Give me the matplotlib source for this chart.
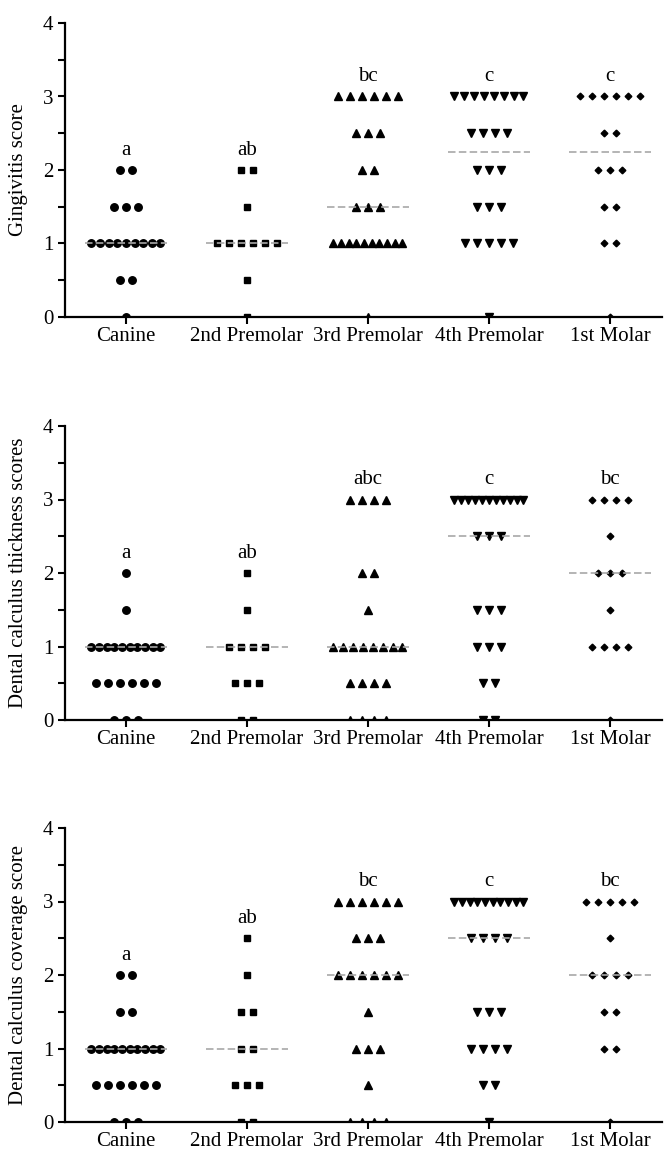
import numpy as np
from matplotlib import pyplot as plt

plt.rcParams['font.family'] = ['Liberation Serif', 'DejaVu Serif']

# Nomes dos dentes (eixo x)
teeth = ['Canine', '2nd Premolar', '3rd Premolar', '4th Premolar', '1st Molar']
markers = ['o', 's', '^', 'v', 'D']
marker_sizes = [5.4, 5.0, 5.6, 5.6, 3.4]

# Escores de gengivite
gingivitis_canine = [0, 0.5, 0.5, 1, 1, 1, 1, 1, 1, 1, 1, 1, 1.5, 1.5, 1.5, 2, 2]
gingivitis_pm2 = [0, 0.5, 1, 1, 1, 1, 1, 1, 1.5, 2, 2]
gingivitis_pm3 = [0, 1, 1, 1, 1, 1, 1, 1, 1, 1, 1, 1.5, 1.5, 1.5, 2, 2,
                  2.5, 2.5, 2.5, 3, 3, 3, 3, 3, 3]
gingivitis_pm4 = [0, 1, 1, 1, 1, 1, 1.5, 1.5, 1.5, 2, 2, 2, 2.5, 2.5, 2.5, 2.5,
                  3, 3, 3, 3, 3, 3, 3, 3]
gingivitis_m1 = [0, 1, 1, 1.5, 1.5, 2, 2, 2, 2.5, 2.5, 3, 3, 3, 3, 3, 3]
gingivitis_letters = ['a', 'ab', 'bc', 'c', 'c']

# Espessura do cálculo dentário
thickness_canine = [0, 0, 0, 0.5, 0.5, 0.5, 0.5, 0.5, 0.5,
                    1, 1, 1, 1, 1, 1, 1, 1, 1, 1, 1.5, 2]
thickness_pm2 = [0, 0, 0.5, 0.5, 0.5, 1, 1, 1, 1, 1.5, 2]
thickness_pm3 = [0, 0, 0, 0, 0.5, 0.5, 0.5, 0.5, 1, 1, 1, 1, 1, 1, 1, 1,
                 1.5, 2, 2, 3, 3, 3, 3]
thickness_pm4 = [0, 0, 0.5, 0.5, 1, 1, 1, 1.5, 1.5, 1.5, 2.5, 2.5, 2.5,
                 3, 3, 3, 3, 3, 3, 3, 3, 3, 3, 3]
thickness_m1 = [0, 1, 1, 1, 1, 1.5, 2, 2, 2, 2.5, 3, 3, 3, 3]
thickness_letters = ['a', 'ab', 'abc', 'c', 'bc']

# Cobertura do cálculo dentário
coverage_canine = [0, 0, 0, 0.5, 0.5, 0.5, 0.5, 0.5, 0.5,
                   1, 1, 1, 1, 1, 1, 1, 1, 1, 1, 1.5, 1.5, 2, 2]
coverage_pm2 = [0, 0, 0.5, 0.5, 0.5, 1, 1, 1.5, 1.5, 2, 2.5]
coverage_pm3 = [0, 0, 0, 0, 0.5, 1, 1, 1, 1.5, 2, 2, 2, 2, 2, 2,
                2.5, 2.5, 2.5, 3, 3, 3, 3, 3, 3]
coverage_pm4 = [0, 0.5, 0.5, 1, 1, 1, 1, 1.5, 1.5, 1.5, 2.5, 2.5, 2.5, 2.5,
                3, 3, 3, 3, 3, 3, 3, 3, 3, 3]
coverage_m1 = [0, 1, 1, 1.5, 1.5, 2, 2, 2, 2, 2.5, 3, 3, 3, 3, 3]
coverage_letters = ['a', 'ab', 'bc', 'c', 'bc']

panels = [
    ('Gingivitis score',
     [gingivitis_canine, gingivitis_pm2, gingivitis_pm3, gingivitis_pm4, gingivitis_m1],
     gingivitis_letters),
    ('Dental calculus thickness scores',
     [thickness_canine, thickness_pm2, thickness_pm3, thickness_pm4, thickness_m1],
     thickness_letters),
    ('Dental calculus coverage score',
     [coverage_canine, coverage_pm2, coverage_pm3, coverage_pm4, coverage_m1],
     coverage_letters),
]

fig = plt.figure(figsize=(6.64, 11.57), dpi=100)
bottoms = [1 - 317 / 1157, 1 - 720 / 1157, 1 - 1122 / 1157]


def spread(xc, values):
    # espalha pontos iguais lado a lado (estilo "scatter dot plot")
    xs, ys = [], []
    for v in sorted(set(values)):
        n = values.count(v)
        step = 0.099 if n < 2 else min(0.099, 0.57 / (n - 1))
        offs = (np.arange(n) - (n - 1) / 2) * step
        xs.extend(xc + offs)
        ys.extend([v] * n)
    return xs, ys


for (ylabel, groups, letters), b in zip(panels, bottoms):
    ax = fig.add_axes([65 / 664, b, 597 / 664, 294 / 1157])
    for i, vals in enumerate(groups):
        xs, ys = spread(i, vals)
        ax.plot(xs, ys, linestyle='none', marker=markers[i], ms=marker_sizes[i],
                color='black', mec='black', zorder=2)
        med = np.median(vals)
        ax.plot([i - 0.34, i + 0.34], [med, med], color='#a8a8a8', lw=1.2,
                linestyle=(0, (4.5, 2)), zorder=3)
        ax.text(i, max(vals) + 0.27, letters[i], ha='center', va='center', fontsize=15)

    ax.set_xlim(-0.504, 4.43)
    ax.set_ylim(0, 4)
    ax.set_xticks(range(len(teeth)))
    ax.set_xticklabels(teeth)
    ax.set_yticks([0, 1, 2, 3, 4])
    ax.set_yticks(np.arange(0.5, 4, 1), minor=True)
    ax.tick_params(axis='both', which='major', labelsize=15, width=1.5, length=5)
    ax.tick_params(axis='y', which='minor', width=1.5, length=5)
    ax.tick_params(axis='x', pad=2)
    ax.spines['top'].set_visible(False)
    ax.spines['right'].set_visible(False)
    ax.spines['left'].set_linewidth(1.6)
    ax.spines['bottom'].set_linewidth(1.6)
    ax.set_ylabel(ylabel, fontsize=15)
    ax.yaxis.set_label_coords(-0.062, 0.5)

plt.savefig('out.png', dpi=100)
